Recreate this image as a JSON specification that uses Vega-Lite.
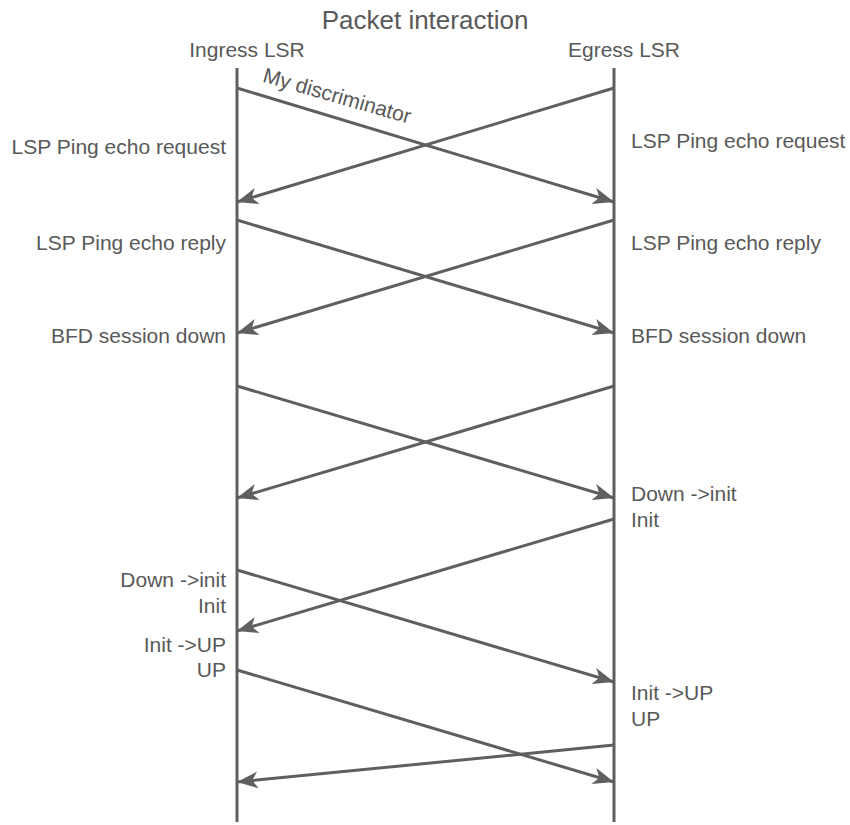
{
  "$schema": "https://vega.github.io/schema/vega-lite/v6.json",
  "width": 850,
  "height": 789,
  "autosize": {"type": "none"},
  "padding": {"top": 36, "left": 0, "right": 0, "bottom": 0},
  "title": {
    "text": "Packet interaction",
    "font": "Liberation Sans",
    "fontSize": 26,
    "fontWeight": "normal",
    "color": "#595959",
    "anchor": "middle",
    "frame": "group",
    "offset": 2
  },
  "config": {
    "view": {"stroke": null},
    "text": {"font": "Liberation Sans", "fontSize": 21, "color": "#595959", "baseline": "alphabetic"}
  },
  "datasets": {
    "lifelines": [
      {"node": "Ingress LSR", "t": 68, "t_end": 822},
      {"node": "Egress LSR", "t": 68, "t_end": 822}
    ],
    "messages": [
      {"from": "Ingress LSR", "to": "Egress LSR", "t1": 88, "t2": 202, "angle": 16.8},
      {"from": "Egress LSR", "to": "Ingress LSR", "t1": 88, "t2": 202, "angle": 163.2},
      {"from": "Ingress LSR", "to": "Egress LSR", "t1": 220, "t2": 333, "angle": 16.7},
      {"from": "Egress LSR", "to": "Ingress LSR", "t1": 220, "t2": 333, "angle": 163.3},
      {"from": "Ingress LSR", "to": "Egress LSR", "t1": 386, "t2": 498, "angle": 16.5},
      {"from": "Egress LSR", "to": "Ingress LSR", "t1": 386, "t2": 498, "angle": 163.5},
      {"from": "Egress LSR", "to": "Ingress LSR", "t1": 519, "t2": 631, "angle": 163.5},
      {"from": "Ingress LSR", "to": "Egress LSR", "t1": 570, "t2": 682, "angle": 16.5},
      {"from": "Ingress LSR", "to": "Egress LSR", "t1": 670, "t2": 782, "angle": 16.5},
      {"from": "Egress LSR", "to": "Ingress LSR", "t1": 745, "t2": 782, "angle": 174.4}
    ],
    "labels": [
      {"side": "left", "node": "Ingress LSR", "t": 154, "text": "LSP Ping echo request"},
      {"side": "left", "node": "Ingress LSR", "t": 250, "text": "LSP Ping echo reply"},
      {"side": "left", "node": "Ingress LSR", "t": 343, "text": "BFD session down"},
      {"side": "left", "node": "Ingress LSR", "t": 587, "text": "Down ->init"},
      {"side": "left", "node": "Ingress LSR", "t": 613, "text": "Init"},
      {"side": "left", "node": "Ingress LSR", "t": 652, "text": "Init ->UP"},
      {"side": "left", "node": "Ingress LSR", "t": 677, "text": "UP"},
      {"side": "right", "node": "Egress LSR", "t": 148, "text": "LSP Ping echo request"},
      {"side": "right", "node": "Egress LSR", "t": 250, "text": "LSP Ping echo reply"},
      {"side": "right", "node": "Egress LSR", "t": 343, "text": "BFD session down"},
      {"side": "right", "node": "Egress LSR", "t": 501, "text": "Down ->init"},
      {"side": "right", "node": "Egress LSR", "t": 527, "text": "Init"},
      {"side": "right", "node": "Egress LSR", "t": 700, "text": "Init ->UP"},
      {"side": "right", "node": "Egress LSR", "t": 726, "text": "UP"}
    ],
    "headers": [
      {"node": "Ingress LSR", "t": 57, "text": "Ingress LSR"},
      {"node": "Egress LSR", "t": 57, "text": "Egress LSR"}
    ],
    "notes": [
      {"node": "Ingress LSR", "t": 88, "text": "My discriminator"}
    ]
  },
  "layer": [
    {
      "data": {"name": "lifelines"},
      "mark": {"type": "rule", "color": "#5f5f5f", "strokeWidth": 3},
      "encoding": {
        "x": {"field": "node", "type": "nominal", "scale": {"type": "point", "domain": ["Ingress LSR", "Egress LSR"], "range": [237, 614], "padding": 0}, "axis": null},
        "y": {"field": "t", "type": "quantitative", "scale": {"domain": [36, 825], "reverse": true, "nice": false, "zero": false}, "axis": null},
        "y2": {"field": "t_end"}
      }
    },
    {
      "data": {"name": "messages"},
      "mark": {"type": "rule", "color": "#5f5f5f", "strokeWidth": 3},
      "encoding": {
        "x": {"field": "from", "type": "nominal", "axis": null},
        "x2": {"field": "to"},
        "y": {"field": "t1", "type": "quantitative", "axis": null},
        "y2": {"field": "t2"}
      }
    },
    {
      "data": {"name": "messages"},
      "mark": {"type": "point", "shape": "M0,0 L-2,-0.8 L-1.45,0 L-2,0.8 Z", "size": 441, "filled": true, "color": "#5f5f5f", "opacity": 1, "strokeWidth": 0},
      "encoding": {
        "x": {"field": "to", "type": "nominal", "axis": null},
        "y": {"field": "t2", "type": "quantitative", "axis": null},
        "angle": {"field": "angle", "type": "quantitative", "scale": null}
      }
    },
    {
      "data": {"name": "labels"},
      "transform": [{"filter": "datum.side === 'left'"}],
      "mark": {"type": "text", "align": "right", "dx": -11},
      "encoding": {
        "x": {"field": "node", "type": "nominal", "axis": null},
        "y": {"field": "t", "type": "quantitative", "axis": null},
        "text": {"field": "text"}
      }
    },
    {
      "data": {"name": "labels"},
      "transform": [{"filter": "datum.side === 'right'"}],
      "mark": {"type": "text", "align": "left", "dx": 17},
      "encoding": {
        "x": {"field": "node", "type": "nominal", "axis": null},
        "y": {"field": "t", "type": "quantitative", "axis": null},
        "text": {"field": "text"}
      }
    },
    {
      "data": {"name": "headers"},
      "mark": {"type": "text", "align": "center", "dx": 10},
      "encoding": {
        "x": {"field": "node", "type": "nominal", "axis": null},
        "y": {"field": "t", "type": "quantitative", "axis": null},
        "text": {"field": "text"}
      }
    },
    {
      "data": {"name": "notes"},
      "mark": {"type": "text", "align": "left", "angle": 16, "dx": 22, "dy": -13},
      "encoding": {
        "x": {"field": "node", "type": "nominal", "axis": null},
        "y": {"field": "t", "type": "quantitative", "axis": null},
        "text": {"field": "text"}
      }
    }
  ]
}
